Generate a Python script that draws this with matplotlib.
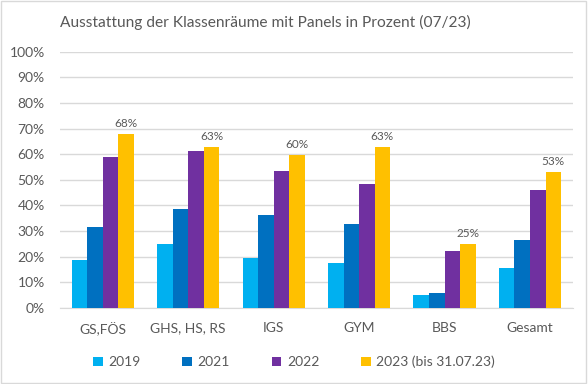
import matplotlib
matplotlib.use("Agg")
import matplotlib.pyplot as plt
import numpy as np
from matplotlib.patches import Rectangle

categories = ["GS,FÖS", "GHS, HS, RS", "IGS", "GYM", "BBS", "Gesamt"]
series_names = ["2019", "2021", "2022", "2023 (bis 31.07.23)"]
v2019 = [18.7, 25.0, 19.6, 17.4, 5.2, 15.5]
v2021 = [31.7, 38.8, 36.2, 32.9, 5.9, 26.5]
v2022 = [58.8, 61.4, 53.6, 48.4, 22.1, 45.9]
v2023 = [68.0, 62.8, 59.8, 62.8, 25.0, 53.1]
labels2023 = ["68%", "63%", "60%", "63%", "25%", "53%"]
colors = ["#00B0F0", "#0070C0", "#7030A0", "#FFC000"]

plt.rcParams['font.family'] = ['Lato', 'DejaVu Sans']
txt = "#595959"

fig = plt.figure(figsize=(5.88, 3.84), dpi=100)
fig.patches.append(Rectangle((0.002, 0.003), 0.994, 0.994, transform=fig.transFigure,
                             fill=False, edgecolor="#D9D9D9", linewidth=1.0))
ax = fig.add_axes([60/588, (384-308)/384, 512.7/588, (308-51.7)/384])

x = np.arange(len(categories))
w = 0.182
all_vals = [v2019, v2021, v2022, v2023]
for i, (vals, c, n) in enumerate(zip(all_vals, colors, series_names)):
    bars = ax.bar(x + (i - 1.5) * w, vals, width=w, color=c, label=n, zorder=3)
    if i == 3:
        for b, lab in zip(bars, labels2023):
            ax.text(b.get_x() + b.get_width()/2, b.get_height() + 2.0, lab,
                    ha="center", va="bottom", fontsize=8.5, color=txt)

ax.set_xlim(-0.5, len(categories) - 0.5)
ax.set_ylim(0, 100)
ax.set_yticks(np.arange(0, 101, 10))
ax.set_yticklabels([f"{t}%" for t in range(0, 101, 10)])
ax.set_xticks(x)
ax.set_xticklabels(categories)
ax.yaxis.grid(True, color="#D9D9D9", linewidth=1, zorder=0)
for s in ["top", "right", "left"]:
    ax.spines[s].set_visible(False)
ax.spines["bottom"].set_color("#D9D9D9")
ax.tick_params(axis="both", length=0, colors=txt, labelsize=10)
ax.tick_params(axis="x", pad=10)
ax.tick_params(axis="y", pad=11)

fig.text(265/588, 1 - 22/384, "Ausstattung der Klassenräume mit Panels in Prozent (07/23)",
         ha="center", va="center", fontsize=11.2, color=txt)

leg = fig.legend(loc="center", bbox_to_anchor=(0.5, 1 - 362/384), ncol=4, frameon=False,
                 fontsize=10, handlelength=0.7, handleheight=0.7, columnspacing=3.0,
                 handletextpad=0.4, labelcolor=txt)

fig.savefig("out.png", dpi=100)
